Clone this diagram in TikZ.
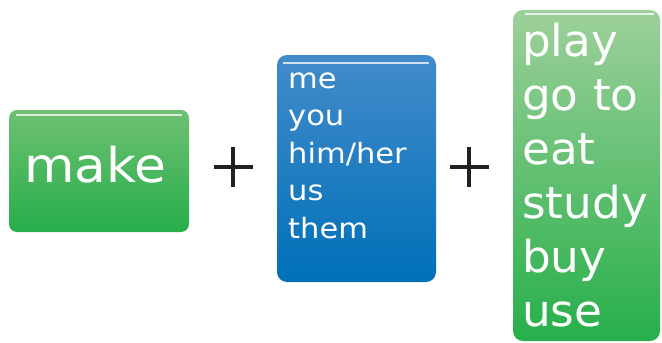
\documentclass[tikz,border=0pt]{standalone}
\usepackage{fontspec}
\setmainfont{DejaVu Sans}
\newfontfamily\makefont[FakeStretch=1.08]{DejaVu Sans}
\newfontfamily\pronfont[FakeStretch=1.09]{DejaVu Sans}
\newfontfamily\verbfont[FakeStretch=1.03]{DejaVu Sans}
\definecolor{gtop}{HTML}{6EC072}
\definecolor{gmid}{HTML}{2AB04B}
\definecolor{gbot}{HTML}{27AE4A}
\definecolor{btop}{HTML}{428BCA}
\definecolor{bmid}{HTML}{0472B9}
\definecolor{bbot}{HTML}{0070B8}
\definecolor{rtop}{HTML}{9DD09A}
\definecolor{rmid}{HTML}{5DBA66}
\definecolor{rbot}{HTML}{27AF4A}
\definecolor{plusc}{HTML}{231F20}
\begin{document}
\begin{tikzpicture}[x=1pt,y=-1pt,
  box/.style={rectangle,inner sep=0pt,outer sep=0pt},
  word/.style={inner sep=0pt,anchor=base west,text=white},
  makeword/.style={word,font=\makefont\fontsize{48}{48}\selectfont},
  pronword/.style={word,font=\pronfont\fontsize{28}{28}\selectfont},
  verbword/.style={word,font=\verbfont\fontsize{44}{44}\selectfont},
  hl/.style={white,opacity=0.75,line width=1.4pt},
  plusline/.style={plusc,line width=3.4pt}]
\useasboundingbox (0,0) rectangle (662,343);
% make box
\node[box,rounded corners=8pt,minimum width=180pt,minimum height=122pt,
  top color=gtop,middle color=gmid,bottom color=gbot] (makebox) at (99,171) {};
\draw[hl] ([xshift=7pt,yshift=-5pt]makebox.north west) -- ([xshift=-7pt,yshift=-5pt]makebox.north east);
\node[makeword] (make) at (24,182) {make};
% plus 1
\coordinate (p1) at (233,167);
\draw[plusline] ([xshift=-19.5pt]p1) -- ([xshift=19.5pt]p1);
\draw[plusline] ([yshift=20pt]p1) -- ([yshift=-20pt]p1);
% blue box
\node[box,rounded corners=10pt,minimum width=159pt,minimum height=227pt,
  top color=btop,middle color=bmid,bottom color=bbot] (bluebox) at (356.5,168.5) {};
\draw[hl] ([xshift=6pt,yshift=-8pt]bluebox.north west) -- ([xshift=-7pt,yshift=-8pt]bluebox.north east);
\node[pronword] (me) at (288,88) {me};
\node[pronword] (you) at (288,125.5) {you};
\node[pronword] (him) at (288,163) {him/her};
\node[pronword] (us) at (288,200.5) {us};
\node[pronword] (them) at (288,238) {them};
% plus 2
\coordinate (p2) at (469,167);
\draw[plusline] ([xshift=-19.5pt]p2) -- ([xshift=19.5pt]p2);
\draw[plusline] ([yshift=20pt]p2) -- ([yshift=-20pt]p2);
% right box
\node[box,rounded corners=10pt,minimum width=147pt,minimum height=331pt,
  top color=rtop,middle color=rmid,bottom color=rbot] (verbbox) at (586.5,175.5) {};
\draw[hl] ([xshift=12pt,yshift=-4pt]verbbox.north west) -- ([xshift=-6pt,yshift=-4pt]verbbox.north east);
\node[verbword] (play) at (522,56.5) {play};
\node[verbword] (goto) at (522,110.5) {go to};
\node[verbword] (eat) at (522,164.5) {eat};
\node[verbword] (study) at (522,218.5) {study};
\node[verbword] (buy) at (522,272.5) {buy};
\node[verbword] (use) at (522,326.5) {use};
\end{tikzpicture}
\end{document}
